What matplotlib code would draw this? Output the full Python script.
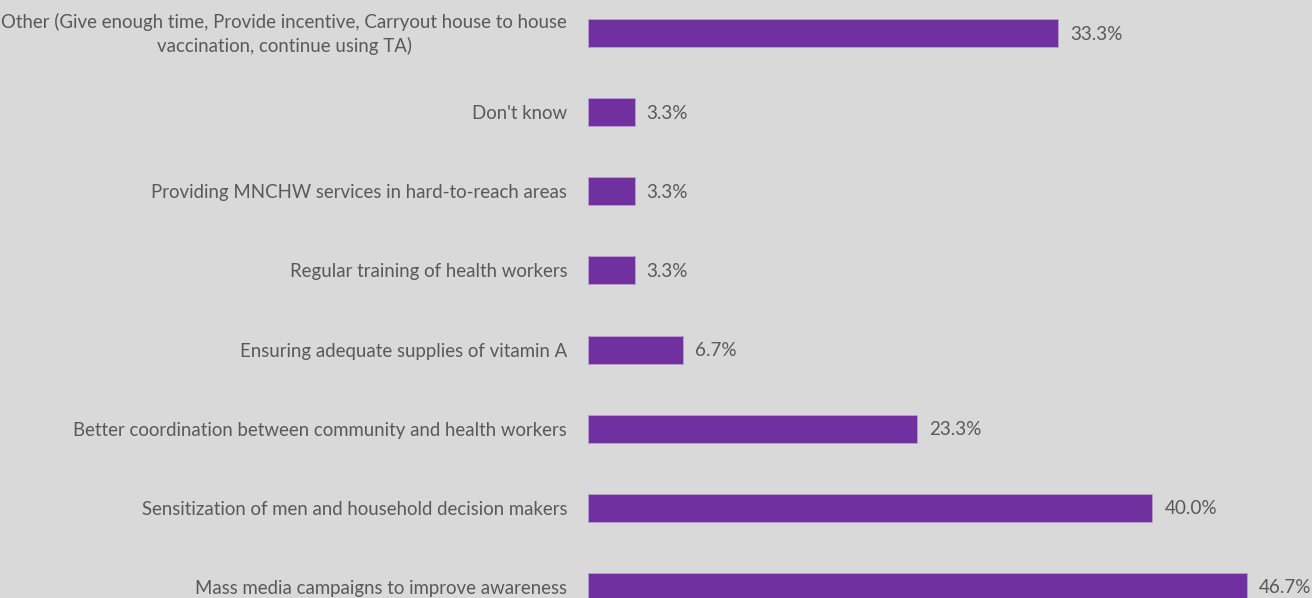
import matplotlib
matplotlib.use("Agg")
import matplotlib.pyplot as plt
import matplotlib.transforms as mtransforms

# Survey responses: suggested improvements (share of respondents, %)
categories = [
    "Mass media campaigns to improve awareness",
    "Sensitization of men and household decision makers",
    "Better coordination between community and health workers",
    "Ensuring adequate supplies of vitamin A",
    "Regular training of health workers",
    "Providing MNCHW services in hard-to-reach areas",
    "Don't know",
    "Other (Give enough time, Provide incentive, Carryout house to house\nvaccination, continue using TA)",
]
values = [46.7, 40.0, 23.3, 6.7, 3.3, 3.3, 3.3, 33.3]

BG = "#d9d9d9"
BAR = "#7030a0"
TXT = "#595959"
FONT = ["Lato", "DejaVu Sans"]

W, H = 1312, 598
fig = plt.figure(figsize=(W / 100, H / 100), dpi=100, facecolor=BG)

# axes placed in pixel terms: x=0 at 588 px, 50% spans ~705 px; rows 79 px apart
x0, px_per_unit, xmax = 588, 14.11, 50
row = 79.14
top_px = 33 - 0.5 * row
bot_px = 587 + 0.5 * row
ax = fig.add_axes([x0 / W, 1 - bot_px / H, xmax * px_per_unit / W, (bot_px - top_px) / H])
ax.set_facecolor(BG)

ypos = list(range(len(categories)))
ax.barh(ypos, values, height=28 / row, color=BAR, edgecolor="#b9a0cc", linewidth=0.6)
ax.set_xlim(0, xmax)
ax.set_ylim(-0.5, len(categories) - 0.5)

for y, v in zip(ypos, values):
    ax.annotate(f"{v:.1f}%", (v, y), xytext=(12, -1), textcoords="offset pixels",
                ha="left", va="center", fontsize=13.6, color=TXT, family=FONT)

ax.set_yticks(ypos)
ax.set_yticklabels(categories, fontsize=13.4, color=TXT, family=FONT,
                   multialignment="center", linespacing=1.45)
ax.tick_params(axis="y", length=0, pad=15)
ax.set_xticks([])
for s in ax.spines.values():
    s.set_visible(False)

# the two-line label sits slightly higher than its bar centre
lbl = ax.get_yticklabels()[-1]
lbl.set_transform(lbl.get_transform() + mtransforms.ScaledTranslation(0, 4 / 100, fig.dpi_scale_trans))

fig.savefig("out.png", dpi=100, facecolor=BG)
